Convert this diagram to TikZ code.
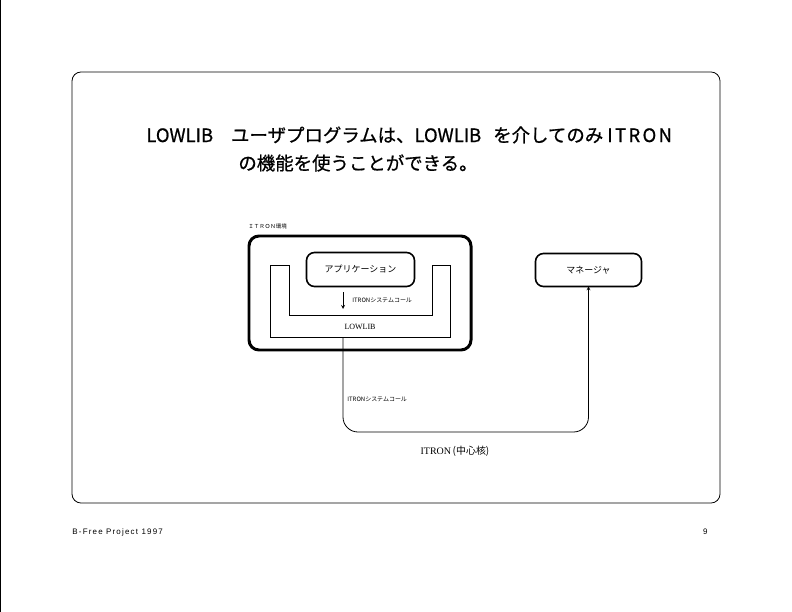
\documentclass[tikz,border=0pt]{standalone}
\usepackage{fontspec}
\setmainfont{Liberation Serif}
\setsansfont{Liberation Sans}
\newfontfamily\jp{Noto Sans CJK JP}
\begin{document}
\begin{tikzpicture}[x=1bp,y=-1bp,line width=.8pt,>=stealth,
  box/.style={draw,rounded corners=8pt,line width=1.6pt,inner sep=0pt,font=\jp\fontsize{9}{9}\selectfont},
  small/.style={font=\jp\fontsize{6}{6}\selectfont,inner sep=0pt},
  headline/.style={font=\jp\fontsize{18.5}{19}\selectfont\addfontfeature{FakeBold=0.8},anchor=west,inner sep=0pt}]
\useasboundingbox (0,0) rectangle (792,612);
\draw[line width=1.2pt] (0.6,0) -- (0.6,612);
\draw[rounded corners=9pt] (72,72) rectangle (720,503);

\node[headline] (title1) at (146,135) {LOWLIB\hspace{18bp}ユーザプログラムは、LOWLIB\hspace{12bp}を介してのみ\hspace{4bp}{\addfontfeature{LetterSpace=13}ITRON}};
\node[headline] (title2) at (238,163) {の機能を使うことができる。};

\node[draw,rounded corners=10pt,line width=3pt,minimum width=222bp,minimum height=114bp] (itron) at (360,293) {};
\node[small,font=\jp\fontsize{5.5}{5.5}\selectfont,anchor=south west] (env) at (248,229) {ＩＴＲＯＮ環境};

\draw (270,265) -- (270,337) -- (450,337) -- (450,265) -- (432,265) -- (432,315) -- (289,315) -- (289,265) -- cycle;
\node[font=\fontsize{8}{8}\selectfont,inner sep=0pt] (lowlib) at (360,327) {LOWLIB};
\coordinate (libout) at (343,337);

\node[box,minimum width=108bp,minimum height=34bp] (app) at (360.5,269.5) {アプリケーション};
\node[box,minimum width=106bp,minimum height=33bp] (mgr) at (588.5,270) {マネージャ};

\coordinate (sysin) at (343,309);
\draw[->,shorten <=5pt] (app.south -| sysin) -- (sysin);
\node[small,anchor=west] (call1) at (352,300) {ITRONシステムコール};

\coordinate (bottom) at (470,432);
\draw[->,rounded corners=15pt] (libout) |- (bottom) -| ([yshift=1pt]mgr.south);
\node[small,anchor=west] (call2) at (347,399) {ITRONシステムコール};
\node[font=\fontsize{10}{10}\selectfont,inner sep=0pt] (kernel) at (455,451) {ITRON\,{\jp(中心核)}};

\node[font=\sffamily\fontsize{8}{8}\selectfont\addfontfeature{LetterSpace=15},anchor=west,inner sep=0pt] (foot) at (72,532) {B-Free Project 1997};
\node[font=\sffamily\fontsize{8}{8}\selectfont,anchor=east,inner sep=0pt] (page) at (708,532) {9};
\end{tikzpicture}
\end{document}
